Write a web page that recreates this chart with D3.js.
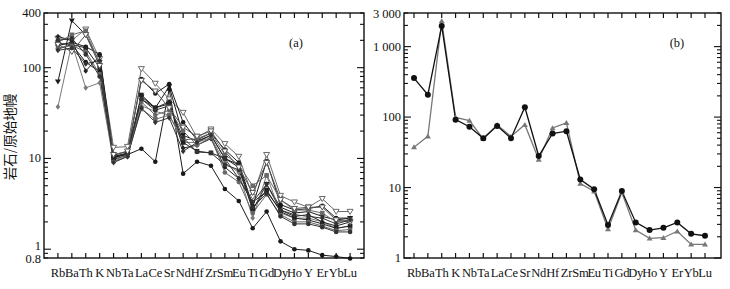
<!DOCTYPE html>
<html><head><meta charset="utf-8">
<script src="https://cdn.jsdelivr.net/npm/d3@7/dist/d3.min.js"></script>
<style>
html,body{margin:0;padding:0;background:#fff;}
svg{display:block;}
text{font-family:"Times New Roman","Liberation Serif",Tinos,Times,serif;fill:#111;}
</style></head>
<body>
<svg id="c" width="730" height="289"></svg>
<script>
const elements = ["Rb","Ba","Th","K","Nb","Ta","La","Ce","Sr","Nd","Hf","Zr","Sm","Eu","Ti","Gd","Dy","Ho","Y","Er","Yb","Lu"];

const seriesA1 = [210,200,265,125,13.2,13.5,97,67,45,32,17,21,14.5,10.5,3.8,11,3.9,3.3,2.9,3.6,2.6,2.6];
const seriesA2 = [175,190,170,140,10.5,11.5,75,52,66,25,16,19,12.5,9,3.0,9.3,3.1,2.7,2.8,3.0,2.2,2.2];
const seriesA3 = [70,330,230,115,10.5,11,48,36,62,18,15.5,18,10,8,2.7,5.2,2.9,2.5,2.6,2.3,2.1,2.2];
const seriesA4 = [160,180,115,90,10.3,11,12.8,9.2,58,6.8,9.2,8.3,4.6,3.4,1.7,2.6,1.22,1.0,0.97,0.86,0.83,0.79];
const seriesA5 = [37,185,60,68,9.3,10.5,38,33,30,15,15,17,9,7,2.2,6.5,2.5,2.2,2.2,2.0,1.7,1.8];
const seriesA6 = [220,200,92,135,9.8,10.8,45,36,42,13,14,16.5,8,6,3.3,4.3,2.7,2.3,2.4,2.0,1.8,2.0];
const seriesA7 = [190,230,255,110,9.5,11,35,27,30,16,16.5,19,11,8.5,5.0,6.5,3.5,2.7,2.7,2.5,2.0,2.1];
const seriesA8 = [185,180,165,100,10,11.5,50,36,40,15,12,11.5,10,8.5,2.8,4.5,2.6,2.2,2.1,1.9,1.7,1.8];
const seriesA9 = [165,175,150,85,9.2,10.5,42,30,34,20,14,17,7,5.5,2.5,4.0,2.4,2.0,2.0,1.8,1.6,1.65];
const seriesA10 = [200,210,140,80,10.8,12,45,34,38,17,11.8,11.5,8.5,7.5,2.9,4.1,2.3,1.9,1.9,1.75,1.55,1.55];
const seriesA11 = [180,150,230,105,11,12,72,55,36,22,17.5,20,12,8,4.2,9,3.5,2.8,2.9,2.9,2.1,2.0];
const seriesA12 = [155,165,110,120,9,10.5,36,25,28,12,15,18,10,6,3.3,5.2,2.7,2.4,2.3,2.2,1.9,2.1];

const seriesB1 = [358,208,1965,92,73,50,75,50,138,28,58.5,63,13,9.45,2.93,8.9,3.2,2.49,2.68,3.2,2.2,2.07];
const seriesB2 = [37.4,53.5,2300,99,89,49,77.6,53,78,25,70,83,11.4,8.85,2.57,8.5,2.49,1.9,1.94,2.4,1.56,1.56];

const tickValsA = [400,100,10,1,0.8];
const tickLabelsA = ["400","100","10","1","0.8"];
const tickValsB = [3000,1000,100,10,1];
const tickLabelsB = ["3 000","1 000","100","10","1"];
const yLabel = "岩石/原始地幔";

const svg = d3.select("#c");

const styleA = [
  {d:seriesA1,c:"#6a6a6a",m:"tri"},
  {d:seriesA2,c:"#1a1a1a",m:"circle"},
  {d:seriesA3,c:"#1a1a1a",m:"trif"},
  {d:seriesA4,c:"#1a1a1a",m:"circle"},
  {d:seriesA5,c:"#7a7a7a",m:"diamond"},
  {d:seriesA6,c:"#222",m:"diamond"},
  {d:seriesA7,c:"#6a6a6a",m:"square"},
  {d:seriesA8,c:"#222",m:"square"},
  {d:seriesA9,c:"#666",m:"circle"},
  {d:seriesA10,c:"#333",m:"circle"},
  {d:seriesA11,c:"#555",m:"tri"},
  {d:seriesA12,c:"#333",m:"diamond"}
];
const styleB = [
  {d:seriesB2,c:"#777",m:"triup"},
  {d:seriesB1,c:"#111",m:"circlebig"}
];

function drawPanel(cfg){
  const g = svg.append("g");
  const x = d3.scalePoint().domain(elements).range([cfg.px0, cfg.px1]);
  const y = d3.scaleLog().domain(cfg.ydom).range([cfg.y1, cfg.y0]);
  const L = cfg.fx0, R = cfg.fx1, T = cfg.y0, B = cfg.y1;

  const line = d3.line().x((d,i)=>x(elements[i])).y(d=>y(d));
  cfg.series.forEach(s=>{
    g.append("path").attr("d", line(s.d)).attr("fill","none")
      .attr("stroke", s.c).attr("stroke-width", cfg.lw);
  });
  cfg.series.forEach(s=>{
    s.d.forEach((v,i)=>{
      drawMarker(g, s.m, x(elements[i]), y(v), s.c);
    });
  });

  g.append("rect").attr("x",L).attr("y",T).attr("width",R-L).attr("height",B-T)
    .attr("fill","none").attr("stroke","#111").attr("stroke-width",1.4);

  elements.forEach(e=>{
    const xx = x(e);
    g.append("line").attr("x1",xx).attr("x2",xx).attr("y1",T).attr("y2",T+5).attr("stroke","#111").attr("stroke-width",1.2);
    g.append("line").attr("x1",xx).attr("x2",xx).attr("y1",B).attr("y2",B-5).attr("stroke","#111").attr("stroke-width",1.2);
    g.append("text").attr("x",xx).attr("y",B+19).attr("text-anchor","middle")
      .attr("font-size",12.5).attr("letter-spacing",-0.2).text(e);
  });

  const [lo,hi] = cfg.ydom;
  const minor = [];
  for(let dec=-1; dec<=4; dec++){
    for(let k=1;k<10;k++){
      const v = k*Math.pow(10,dec);
      if(v>=lo*0.999 && v<=hi*1.001) minor.push(v);
    }
  }
  minor.forEach(v=>{
    const yy = y(v);
    const isMajor = Math.abs(Math.log10(v)-Math.round(Math.log10(v)))<1e-9;
    const len = isMajor?7:4;
    g.append("line").attr("x1",L).attr("x2",L+len).attr("y1",yy).attr("y2",yy).attr("stroke","#111").attr("stroke-width",1.1);
    g.append("line").attr("x1",R).attr("x2",R-len).attr("y1",yy).attr("y2",yy).attr("stroke","#111").attr("stroke-width",1.1);
  });
  cfg.tickVals.forEach((v,i)=>{
    g.append("text").attr("x",L-3).attr("y",y(v)+cfg.tickDy[i]).attr("text-anchor","end")
      .attr("font-size",12.5).text(cfg.tickLabels[i]);
  });
  g.append("text").attr("x",cfg.tagX).attr("y",cfg.tagY).attr("text-anchor","middle")
    .attr("font-size",12.5).text(cfg.tag);
}

function drawMarker(g, m, cx, cy, c){
  const r = 2.3;
  if(m==="circle"){
    g.append("circle").attr("cx",cx).attr("cy",cy).attr("r",r).attr("fill",c);
  } else if(m==="circlebig"){
    g.append("circle").attr("cx",cx).attr("cy",cy).attr("r",3).attr("fill",c);
  } else if(m==="square"){
    g.append("rect").attr("x",cx-r).attr("y",cy-r).attr("width",2*r).attr("height",2*r).attr("fill",c);
  } else if(m==="diamond"){
    g.append("path").attr("d",`M${cx},${cy-r-0.6}L${cx+r},${cy}L${cx},${cy+r+0.6}L${cx-r},${cy}Z`).attr("fill",c);
  } else if(m==="tri"){
    g.append("path").attr("d",`M${cx-3},${cy-2.2}L${cx+3},${cy-2.2}L${cx},${cy+2.8}Z`).attr("fill","#fff").attr("stroke",c).attr("stroke-width",1);
  } else if(m==="trif"){
    g.append("path").attr("d",`M${cx-3},${cy-2.2}L${cx+3},${cy-2.2}L${cx},${cy+2.8}Z`).attr("fill",c);
  } else if(m==="triup"){
    g.append("path").attr("d",`M${cx-3},${cy+2.2}L${cx+3},${cy+2.2}L${cx},${cy-2.8}Z`).attr("fill",c);
  }
}

drawPanel({fx0:44, fx1:364, px0:44+320/23, px1:364-320/23, y0:13, y1:258, ydom:[0.8,400],
  series:styleA, lw:1, tickVals:tickValsA, tickLabels:tickLabelsA, tickDy:[4,4,4,1,5], tag:"(a)", tagX:296, tagY:47});
drawPanel({fx0:404, fx1:721, px0:414, px1:705, y0:13, y1:258, ydom:[1,3000],
  series:styleB, lw:1.3, tickVals:tickValsB, tickLabels:tickLabelsB, tickDy:[5,4,4,4,4], tag:"(b)", tagX:677, tagY:47});

svg.append("text").attr("transform","translate(15,137) rotate(-90)")
  .attr("text-anchor","middle").attr("font-size",13.5)
  .style("font-family","'Noto Sans CJK SC',sans-serif").text(yLabel);
</script>
</body></html>
